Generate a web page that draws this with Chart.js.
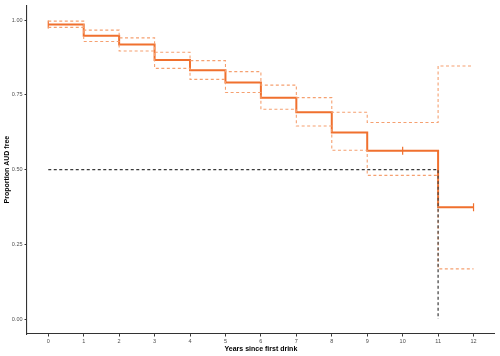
<!DOCTYPE html>
<html>
<head>
<meta charset="utf-8">
<script src="https://cdn.jsdelivr.net/npm/chart.js@4"></script>
<style>
html,body{margin:0;padding:0;background:#fff;}
#wrap{width:500px;height:356px;}
</style>
</head>
<body>
<div id="wrap"><canvas id="c" width="500" height="356"></canvas></div>
<script>
// Kaplan-Meier estimates
const times = [0, 1, 2, 3, 4, 5, 6, 7, 8, 9, 11, 12];
const survival = [0.986, 0.948, 0.919, 0.867, 0.833, 0.792, 0.741, 0.692, 0.624, 0.563, 0.374, 0.374];
const upperCI = [0.997, 0.967, 0.941, 0.893, 0.865, 0.828, 0.783, 0.741, 0.692, 0.658, 0.847, 0.847];
const lowerCI = [0.976, 0.929, 0.897, 0.839, 0.802, 0.758, 0.702, 0.646, 0.565, 0.481, 0.168, 0.168];
const censorTimes = [0, 10, 12];
const censorValues = [0.986, 0.563, 0.374];
const medianLevel = 0.5;
const medianTime = 11;
const xTicks = [0, 1, 2, 3, 4, 5, 6, 7, 8, 9, 10, 11, 12];
const yTicks = [0, 0.25, 0.5, 0.75, 1.0];
const yTickLabels = ["0.00", "0.25", "0.50", "0.75", "1.00"];

const MAIN = '#F0702E';
const CI = '#F5A070';
const FONT = "'Liberation Sans', Arial, sans-serif";

const pts = (xs, ys) => xs.map((x, i) => ({x: x, y: ys[i]}));

new Chart(document.getElementById('c'), {
  type: 'line',
  data: {
    datasets: [
      {
        data: [{x: 0, y: medianLevel}, {x: medianTime, y: medianLevel}, {x: medianTime, y: 0}],
        borderColor: '#3a3a3a', borderWidth: 1.2, borderDash: [3, 2.5],
        pointRadius: 0, fill: false, tension: 0
      },
      {
        data: pts(times, upperCI), stepped: 'before',
        borderColor: CI, borderWidth: 1.1, borderDash: [3, 2.5],
        pointRadius: 0, fill: false
      },
      {
        data: pts(times, lowerCI), stepped: 'before',
        borderColor: CI, borderWidth: 1.1, borderDash: [3, 2.5],
        pointRadius: 0, fill: false
      },
      {
        data: pts(times, survival), stepped: 'before',
        borderColor: MAIN, borderWidth: 2, pointRadius: 0, fill: false
      },
      {
        data: pts(censorTimes, censorValues), showLine: false,
        pointStyle: 'line', rotation: 90, pointRadius: 4,
        borderColor: MAIN, pointBorderColor: MAIN, pointBorderWidth: 1.2,
        backgroundColor: MAIN
      }
    ]
  },
  options: {
    responsive: false,
    animation: false,
    events: [],
    layout: {padding: {left: 0, right: 5, top: 5, bottom: 0}},
    plugins: {legend: {display: false}, tooltip: {enabled: false}},
    scales: {
      x: {
        type: 'linear', min: -0.6, max: 12.6,
        afterBuildTicks: s => { s.ticks = xTicks.map(v => ({value: v})); },
        afterFit: s => { s.height = 22; },
        grid: {drawOnChartArea: false, drawTicks: true, tickLength: 2.5, color: '#333', lineWidth: 1},
        border: {display: true, color: '#333', width: 1.1},
        ticks: {autoSkip: false, maxRotation: 0, padding: 2, color: '#4d4d4d',
          font: {family: FONT, size: 5.5}, callback: v => String(v)},
        title: {display: true, text: 'Years since first drink', color: '#000',
          font: {family: FONT, size: 7, weight: 'bold'}, padding: {top: 0, bottom: 3}}
      },
      y: {
        type: 'linear', min: -0.05, max: 1.05,
        afterBuildTicks: s => { s.ticks = yTicks.map(v => ({value: v})); },
        afterFit: s => { s.width = 27; },
        grid: {drawOnChartArea: false, drawTicks: true, tickLength: 2.5, color: '#333', lineWidth: 1},
        border: {display: true, color: '#333', width: 1.1},
        ticks: {autoSkip: false, padding: 2, color: '#4d4d4d',
          font: {family: FONT, size: 5.5},
          callback: v => { const i = yTicks.indexOf(v); return i >= 0 ? yTickLabels[i] : ''; }},
        title: {display: true, text: 'Proportion AUD free', color: '#000',
          font: {family: FONT, size: 7, weight: 'bold'}, padding: {top: 3, bottom: 0}}
      }
    }
  }
});
</script>
</body>
</html>
